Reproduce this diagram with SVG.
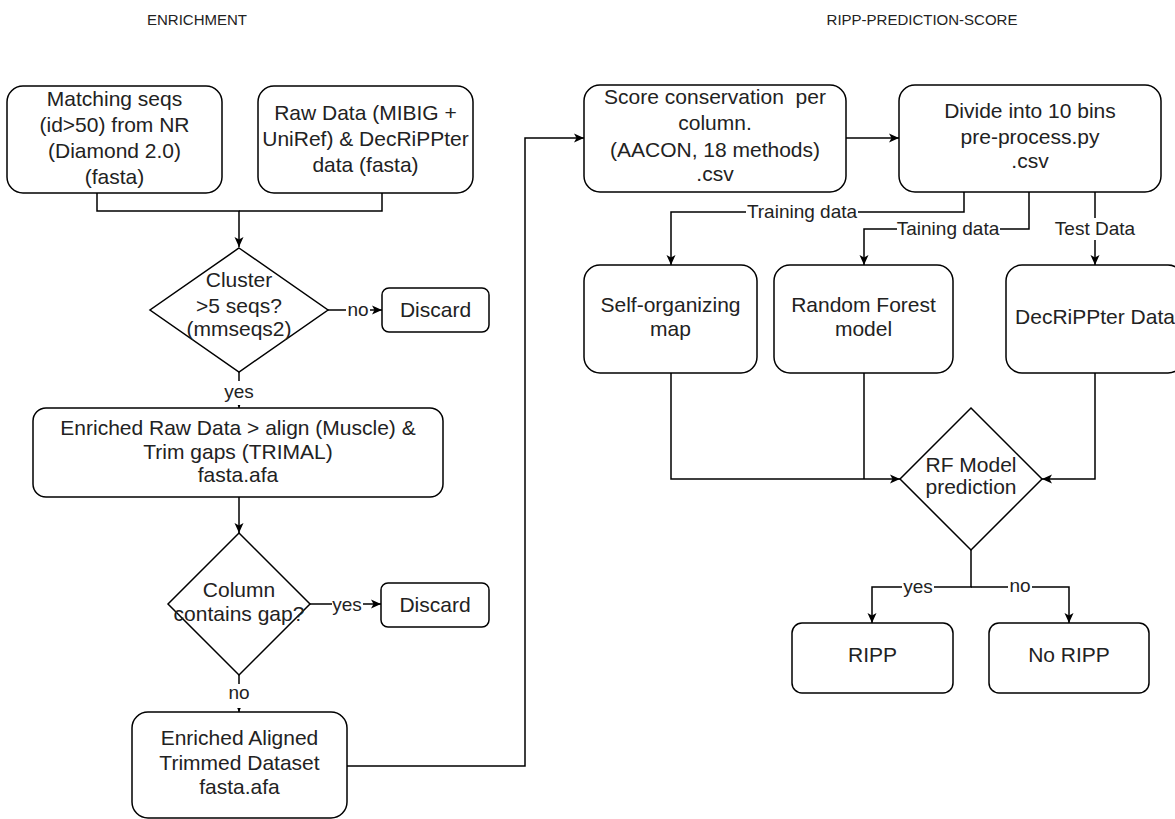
<svg xmlns="http://www.w3.org/2000/svg" width="1175" height="819" viewBox="0 0 1175 819">
<style>
.box{fill:#fff;stroke:#000;stroke-width:1.5}
.t{font-family:"Liberation Sans",Arial,sans-serif;font-size:21px;fill:#222;text-anchor:middle}
.h{font-family:"Liberation Sans",Arial,sans-serif;font-size:15px;fill:#222;text-anchor:middle}
.e{fill:none;stroke:#000;stroke-width:1.5}
.lb{fill:#fff}
.lt{font-family:"Liberation Sans",Arial,sans-serif;font-size:19px;fill:#222;text-anchor:middle}
</style>
<defs>
<marker id="arr" markerUnits="userSpaceOnUse" markerWidth="11" markerHeight="10" refX="10" refY="5" orient="auto" viewBox="0 0 11 10">
<path d="M0,0.5 L10,5 L0,9.5 L2.5,5 Z" fill="#000"/>
</marker>
</defs>
<rect width="1175" height="819" fill="#fff"/>
<text class="h" x="197" y="25">ENRICHMENT</text>
<text class="h" x="922" y="25">RIPP-PREDICTION-SCORE</text>

<g id="connectors">
<path class="e" d="M97,193 V211 H239 V247" marker-end="url(#arr)"/>
<path class="e" d="M382,193 V211 H239"/>
<path class="e" d="M239,372 V408" marker-end="url(#arr)"/>
<path class="e" d="M328,310 H382" marker-end="url(#arr)"/>
<path class="e" d="M239,497 V533" marker-end="url(#arr)"/>
<path class="e" d="M310,604 H381" marker-end="url(#arr)"/>
<path class="e" d="M239,675 V712" marker-end="url(#arr)"/>
<path class="e" d="M347,766 H525 V138 H584" marker-end="url(#arr)"/>
<path class="e" d="M846,138 H899" marker-end="url(#arr)"/>
<path class="e" d="M964,192 V212 H671 V265" marker-end="url(#arr)"/>
<path class="e" d="M1029,192 V229 H864 V265" marker-end="url(#arr)"/>
<path class="e" d="M1095,192 V265" marker-end="url(#arr)"/>
<path class="e" d="M671,373 V479 H900" marker-end="url(#arr)"/>
<path class="e" d="M864,373 V479"/>
<path class="e" d="M1095,373 V479 H1042" marker-end="url(#arr)"/>
<path class="e" d="M971,550 V587 H872 V623" marker-end="url(#arr)"/>
<path class="e" d="M971,587 H1069 V623" marker-end="url(#arr)"/>
<g id="edge-labels">
<rect class="lb" x="223" y="381" width="32" height="24"/><text class="lt" x="239" y="398">yes</text>
<rect class="lb" x="346" y="300" width="24" height="20"/><text class="lt" x="358" y="316">no</text>
<rect class="lb" x="332" y="594" width="31" height="22"/><text class="lt" x="347" y="611">yes</text>
<rect class="lb" x="227" y="684" width="24" height="24"/><text class="lt" x="239" y="699">no</text>
<rect class="lb" x="746" y="201" width="112" height="22"/><text class="lt" x="802" y="218">Training data</text>
<rect class="lb" x="897" y="218" width="103" height="22"/><text class="lt" x="948" y="235">Taining data</text>
<rect class="lb" x="1054" y="218" width="82" height="22"/><text class="lt" x="1095" y="235">Test Data</text>
<rect class="lb" x="902" y="577" width="32" height="20"/><text class="lt" x="918" y="593">yes</text>
<rect class="lb" x="1008" y="577" width="24" height="20"/><text class="lt" x="1020" y="592">no</text>
</g>
</g>

<g id="matching">
<rect class="box" x="7" y="86" width="215" height="107" rx="16"/>
<text class="t" x="114.5" y="106">Matching seqs</text>
<text class="t" x="114.5" y="132">(id&gt;50) from NR</text>
<text class="t" x="114.5" y="158">(Diamond 2.0)</text>
<text class="t" x="114.5" y="184">(fasta)</text>
</g>
<g id="rawdata">
<rect class="box" x="258" y="86" width="215" height="107" rx="16"/>
<text class="t" x="365.5" y="120">Raw Data (MIBIG +</text>
<text class="t" x="365.5" y="146">UniRef) &amp; DecRiPPter</text>
<text class="t" x="365.5" y="172">data (fasta)</text>
</g>
<g id="cluster">
<polygon class="box" points="239,248 328,310 239,372 150,310"/>
<text class="t" x="239" y="287">Cluster</text>
<text class="t" x="239" y="313">&gt;5 seqs?</text>
<text class="t" x="239" y="336">(mmseqs2)</text>
</g>
<g id="discard1">
<rect class="box" x="382" y="288" width="107" height="44" rx="7"/>
<text class="t" x="435.5" y="317">Discard</text>
</g>
<g id="enriched-raw">
<rect class="box" x="33" y="408" width="410" height="89" rx="13"/>
<text class="t" x="238" y="435">Enriched Raw Data &gt; align (Muscle) &amp;</text>
<text class="t" x="238" y="459">Trim gaps (TRIMAL)</text>
<text class="t" x="238" y="482">fasta.afa</text>
</g>
<g id="column-gap">
<polygon class="box" points="239,533 310,604 239,675 168,604"/>
<text class="t" x="239" y="597">Column</text>
<text class="t" x="239" y="621">contains gap?</text>
</g>
<g id="discard2">
<rect class="box" x="381" y="583" width="108" height="44" rx="7"/>
<text class="t" x="435" y="612">Discard</text>
</g>
<g id="enriched-aligned">
<rect class="box" x="132" y="712" width="215" height="106" rx="16"/>
<text class="t" x="239.5" y="745">Enriched Aligned</text>
<text class="t" x="239.5" y="770">Trimmed Dataset</text>
<text class="t" x="239.5" y="794">fasta.afa</text>
</g>
<g id="score">
<rect class="box" x="584" y="85" width="262" height="107" rx="16"/>
<text class="t" x="715" y="104" xml:space="preserve">Score conservation  per</text>
<text class="t" x="715" y="130">column.</text>
<text class="t" x="715" y="157">(AACON, 18 methods)</text>
<text class="t" x="715" y="181">.csv</text>
</g>
<g id="divide">
<rect class="box" x="899" y="85" width="262" height="107" rx="16"/>
<text class="t" x="1030" y="118">Divide into 10 bins</text>
<text class="t" x="1030" y="144">pre-process.py</text>
<text class="t" x="1030" y="168">.csv</text>
</g>
<g id="som">
<rect class="box" x="584" y="265" width="173" height="108" rx="16"/>
<text class="t" x="670.5" y="312">Self-organizing</text>
<text class="t" x="670.5" y="336">map</text>
</g>
<g id="rf-model">
<rect class="box" x="774" y="265" width="179" height="108" rx="16"/>
<text class="t" x="863.5" y="312">Random Forest</text>
<text class="t" x="863.5" y="336">model</text>
</g>
<g id="decripper">
<rect class="box" x="1006" y="265" width="178" height="108" rx="16"/>
<text class="t" x="1095" y="324">DecRiPPter Data</text>
</g>
<g id="rf-prediction">
<polygon class="box" points="971,408 1042,479 971,550 900,479"/>
<text class="t" x="971" y="472">RF Model</text>
<text class="t" x="971" y="494">prediction</text>
</g>
<g id="ripp">
<rect class="box" x="792" y="623" width="161" height="70" rx="10"/>
<text class="t" x="872.5" y="662">RIPP</text>
</g>
<g id="noripp">
<rect class="box" x="989" y="623" width="160" height="70" rx="10"/>
<text class="t" x="1069" y="662">No RIPP</text>
</g>
</svg>
